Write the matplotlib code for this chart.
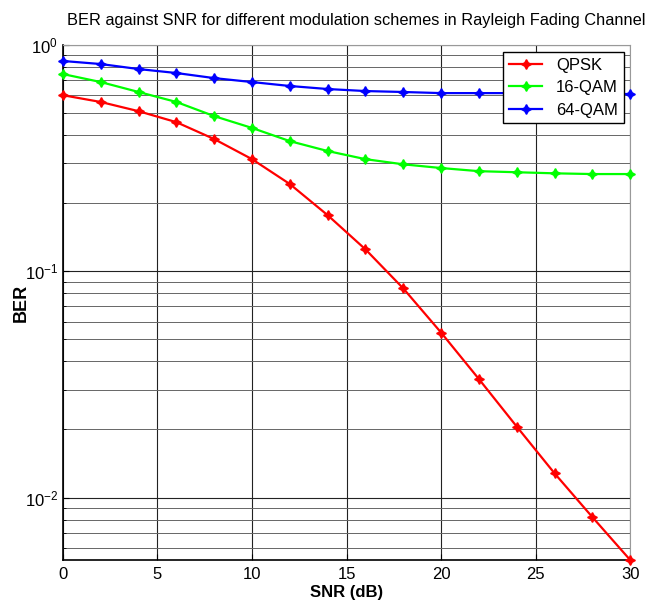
import matplotlib
matplotlib.use("Agg")
import matplotlib.pyplot as plt

# ── data ─────────────────────────────────────────────────────────────────────
snr_db = [0, 2, 4, 6, 8, 10, 12, 14, 16, 18, 20, 22, 24, 26, 28, 30]

ber_qpsk = [0.60, 0.56, 0.51, 0.456, 0.384, 0.313, 0.243, 0.177, 0.125,
            0.084, 0.0536, 0.0334, 0.0206, 0.0128, 0.0082, 0.0053]
ber_16qam = [0.744, 0.686, 0.62, 0.56, 0.485, 0.43, 0.376, 0.34, 0.313,
             0.297, 0.286, 0.277, 0.274, 0.271, 0.269, 0.269]
ber_64qam = [0.85, 0.824, 0.783, 0.752, 0.714, 0.686, 0.659, 0.639, 0.626,
             0.62, 0.613, 0.613, 0.613, 0.612, 0.611, 0.607]

series = [("QPSK", ber_qpsk, "#ff0000"),
          ("16-QAM", ber_16qam, "#00ff00"),
          ("64-QAM", ber_64qam, "#0000ff")]

# ── font ─────────────────────────────────────────────────────────────────────
family = "Liberation Sans"
plt.rcParams["font.family"] = [family, "DejaVu Sans"]
plt.rcParams["mathtext.fontset"] = "custom"
plt.rcParams["mathtext.rm"] = family

fig = plt.figure(figsize=(6.49, 6.05), dpi=100)
ax = fig.add_axes([0.097, 0.0744, 0.874, 0.8512])

star4 = (4, 1, 0)
for label, vals, color in series:
    ax.plot(snr_db, vals, color=color, lw=1.6, marker=star4, ms=7,
            label=label, clip_on=False, zorder=3)

ax.set_yscale("log")
ax.set_xlim(0, 30)
ax.set_ylim(0.0053, 1.0)
ax.set_xticks([0, 5, 10, 15, 20, 25, 30])

ax.grid(True, which="major", color="#222222", lw=0.8)
ax.grid(True, which="minor", axis="y", color="#666666", lw=0.7)
ax.tick_params(axis="both", which="both", direction="in", labelsize=12)
ax.tick_params(axis="both", which="major", length=4)
ax.tick_params(axis="y", which="minor", length=2)
ax.tick_params(axis="x", pad=5)

for side in ("top", "right"):
    ax.spines[side].set_color("#999999")
for side in ("left", "bottom"):
    ax.spines[side].set_color("black")
    ax.spines[side].set_linewidth(1.2)

ax.set_xlabel("SNR (dB)", fontsize=12, fontweight="bold", labelpad=2)
ax.set_ylabel("BER", fontsize=13, fontweight="bold")
ax.yaxis.set_label_coords(-0.058, 0.5)

fig.text(356 / 649, 1 - 20 / 605,
         "BER against SNR for different modulation schemes in Rayleigh Fading Channel",
         fontsize=11.8, ha="center", va="center")

leg = ax.legend(loc="upper right", fontsize=12, fancybox=False, framealpha=1,
                edgecolor="black", borderaxespad=0.4, handlelength=2.0,
                labelspacing=0.45, borderpad=0.35)
leg.get_frame().set_linewidth(1.0)

plt.savefig("out.png", dpi=100)
